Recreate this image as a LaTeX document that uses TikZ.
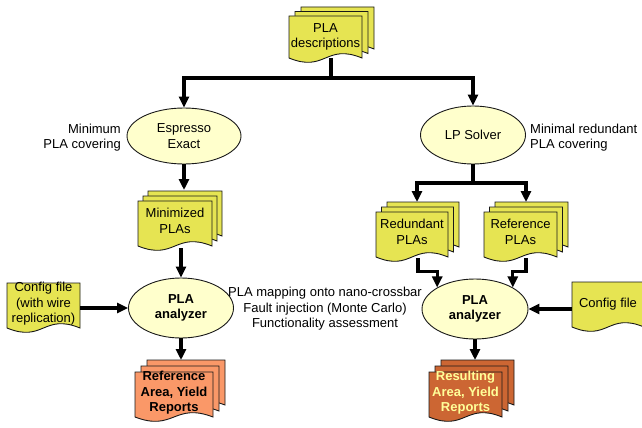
\documentclass[tikz,border=0pt]{standalone}
\usepackage{fontspec}
\setmainfont{Liberation Sans}
\usetikzlibrary{arrows.meta,shapes.geometric,calc}

\definecolor{docyellow}{RGB}{230,228,82}
\definecolor{procfill}{RGB}{255,255,204}
\definecolor{reflight}{RGB}{250,152,104}
\definecolor{resdark}{RGB}{204,102,51}
\definecolor{restext}{RGB}{255,255,153}

\newcommand\diagfont{\fontsize{13pt}{15.5pt}\selectfont}

% one document sheet: top-left corner (#1,#2), width #3, height #4 down to the wavy edge, fill #5
\newcommand\docpage[5]{%
  \pgfmathsetmacro\dpr{#1+#3}%
  \pgfmathsetmacro\dpb{#2+#4}%
  \pgfmathsetmacro\dpm{#1+0.5*#3}%
  \pgfmathsetmacro\dpu{#2+#4-15}%
  \pgfmathsetmacro\dpd{#2+#4+15}%
  \filldraw[pageline, fill=#5] (#1,#2) -- (\dpr,#2) -- (\dpr,\dpb)
    .. controls (\dpm,\dpu) and (\dpm,\dpd) .. (#1,\dpb) -- cycle;}

% a stack of three sheets, each one shifted by (#5,-#6) behind the previous
\newcommand\docstack[7]{%
  \foreach \k in {2,1,0}{%
    \pgfmathsetmacro\dsx{#1+\k*#5}%
    \pgfmathsetmacro\dsy{#2-\k*#6}%
    \docpage{\dsx}{\dsy}{#3}{#4}{#7}}}

\tikzset{
  pageline/.style={draw=black!90, line width=0.9pt},
  doctext/.style={align=center, inner sep=0pt, font=\diagfont},
  boldtext/.style={align=center, inner sep=0pt, font=\diagfont\bfseries},
  process/.style={ellipse, draw=black!90, line width=0.9pt, fill=procfill,
    inner sep=0pt, align=center, font=\diagfont},
  note/.style={inner sep=0pt, font=\diagfont},
  wire/.style={draw=black, line width=3.2pt},
  flow/.style={wire, -{Triangle[length=11pt,width=10pt]}},
}

\begin{document}
\begin{tikzpicture}[x=1pt,y=-1pt]
\useasboundingbox (0,0) rectangle (642,428);
\clip (0,0) rectangle (642,428);
\fill[white] (0,0) rectangle (642,428);

% ---- input descriptions
\docstack{289}{16}{73}{42}{6}{4.5}{docyellow}
\node[doctext] (desc) at (325.5,37) {PLA\\descriptions};
\coordinate (desc-out) at (331,58);
\coordinate (descsplit) at (331,78);

% ---- covering solvers
\node[process, minimum width=114pt, minimum height=56pt] (esp) at (184,136) {Espresso\\Exact};
\node[process, minimum width=105pt, minimum height=58pt] (lp) at (473,135) {LP Solver};
\node[note, anchor=east, align=right] (lblmin) at (121,137.5) {Minimum\\PLA covering};
\node[note, anchor=west, align=left] (lblred) at (530,137.5) {Minimal redundant\\PLA covering};

% ---- left branch
\docstack{138}{201}{74}{45}{5}{5}{docyellow}
\node[doctext] (minpla) at (175,221) {Minimized\\PLAs};
\coordinate (min-in) at (184,190);
\coordinate (min-out) at (181,248);

\docpage{7}{283}{73}{45}{docyellow}
\node[doctext, minimum width=73pt] (cfgL) at (43.5,304) {Config file\\(with wire\\replication)};

\node[process, font=\diagfont\bfseries, minimum width=105pt, minimum height=60pt] (anaL) at (181,308) {PLA\\analyzer};

\docstack{135}{372}{78}{45}{6}{6}{reflight}
\node[boldtext] (repL) at (174,393) {Reference\\Area, Yield\\Reports};
\coordinate (repL-in) at (181,360);

% ---- right branch
\coordinate (lpsplit) at (473,183);
\docstack{376}{212}{72}{45}{5.5}{5}{docyellow}
\node[doctext] (redpla) at (412,232) {Redundant\\PLAs};
\coordinate (red-in) at (417,202);
\coordinate (red-out) at (418,258);

\docstack{484}{212}{73}{45}{5.5}{5}{docyellow}
\node[doctext] (refpla) at (520.5,232) {Reference\\PLAs};
\coordinate (ref-in) at (526,202);
\coordinate (ref-out) at (526,258);

\node[process, font=\diagfont\bfseries, minimum width=106pt, minimum height=60pt] (anaR) at (475,309) {PLA\\analyzer};

\docpage{572}{282}{72}{45}{docyellow}
\node[doctext, minimum width=72pt] (cfgR) at (608,304) {Config file};

\docstack{429}{372}{73}{45}{6}{6}{resdark}
\node[boldtext, text=restext] (repR) at (465.5,393) {Resulting\\Area, Yield\\Reports};
\coordinate (repR-in) at (475,360);

% ---- analyzer steps
\node[note, align=center] (lblmap) at (325,309) {PLA mapping onto nano-crossbar\\Fault injection (Monte Carlo)\\Functionality assessment};

% ---- connectors
\draw[wire] (desc-out) -- (descsplit);
\draw[flow] (descsplit) -| (esp);
\draw[flow] (descsplit) -| (lp);
\draw[flow] (esp.south) -- (esp.south |- min-in);
\draw[flow] (min-out) -- (anaL);
\draw[flow] (cfgL.east |- anaL) -- (anaL);
\draw[flow] (anaL.south) -- (anaL.south |- repL-in);

\draw[wire] (lp.south) -- (lpsplit);
\draw[flow] (lpsplit) -| (red-in);
\draw[flow] (lpsplit) -| (ref-in);
\draw[flow] (red-out) |- ([yshift=16pt]anaR.north west) -- (anaR.north west);
\draw[flow] (ref-out) |- ([yshift=16pt]anaR.north east) -- (anaR.north east);
\draw[flow] (cfgR.west |- anaR) -- (anaR);
\draw[flow] (anaR.south) -- (anaR.south |- repR-in);
\end{tikzpicture}
\end{document}
